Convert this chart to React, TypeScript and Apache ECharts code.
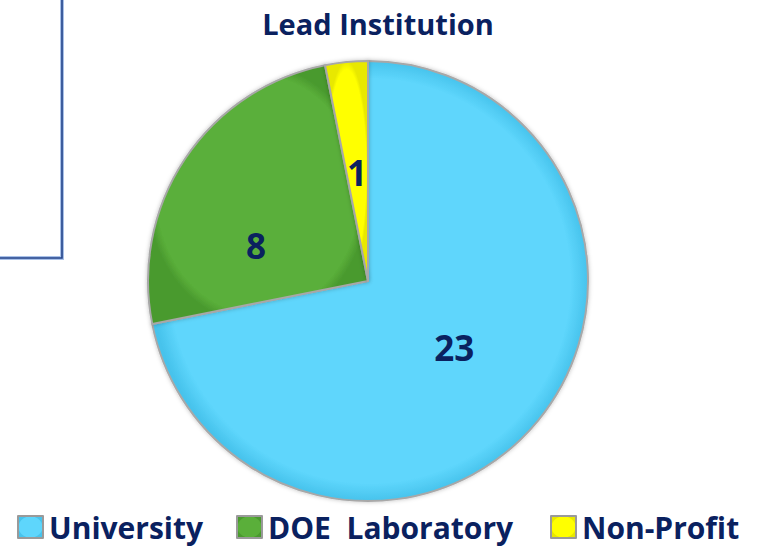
import React, { useEffect, useRef } from "react";
import * as echarts from "echarts";

const categories = ["University", "DOE  Laboratory", "Non-Profit"];
const values = [23, 8, 1];
const colors = ["#5ED6FC", "#5AAF3A", "#FFFF00"];
const edgeColors = ["#47C3EC", "#4A9A2E", "#E8E800"];
const titleText = "Lead Institution";

export default function App() {
  const ref = useRef<HTMLDivElement>(null);
  useEffect(() => {
    document.body.style.margin = "0";
    const chart = echarts.init(ref.current!, null, { renderer: "svg" });
    const navy = "#0A215F";
    const font = "'Open Sans'";
    const legendLefts = [17, 236, 550];
    const labelShift = [
      { dx: -1, dy: -5 },
      { dx: -18, dy: 27 },
      { dx: 0, dy: 4 },
    ];
    chart.setOption({
      animation: false,
      backgroundColor: "#ffffff",
      title: {
        text: titleText,
        left: 373,
        top: 4,
        textAlign: "center",
        textStyle: { color: navy, fontFamily: font, fontWeight: "bold", fontSize: 29 },
      },
      legend: categories.map((c, i) => ({
        data: [c],
        left: legendLefts[i],
        top: 512,
        icon: "rect",
        itemWidth: 25,
        itemHeight: 22,
        itemGap: 8,
        padding: 0,
        selectedMode: false,
        itemStyle: { borderColor: "#9A9A9A", borderWidth: 2 },
        textStyle: { color: navy, fontFamily: font, fontWeight: "bold", fontSize: 30, padding: [0, 0, 0, 1] },
      })),
      graphic: [
        {
          type: "polyline",
          shape: { points: [[62, 0], [62, 258], [0, 258]] },
          style: { stroke: "#A9C1E8", lineWidth: 4, fill: null },
        },
        {
          type: "polyline",
          shape: { points: [[62, 0], [62, 258], [0, 258]] },
          style: { stroke: "#24448A", lineWidth: 1.6, fill: null },
        },
      ],
      series: [
        {
          type: "pie",
          center: [368, 281],
          radius: 220,
          startAngle: 90,
          clockwise: true,
          avoidLabelOverlap: false,
          data: categories.map((c, i) => ({
            name: c,
            value: values[i],
            itemStyle: {
              color: {
                type: "radial",
                x: 0.5,
                y: 0.5,
                r: 0.5,
                colorStops: [
                  { offset: 0, color: colors[i] },
                  { offset: 0.92, color: colors[i] },
                  { offset: 1, color: edgeColors[i] },
                ],
              },
            },
          })),
          itemStyle: {
            borderColor: "#A8A8A8",
            borderWidth: 2,
            shadowBlur: 4,
            shadowColor: "rgba(0,0,0,0.25)",
          },
          label: {
            show: true,
            position: "inside",
            formatter: "{c}",
            color: navy,
            fontFamily: font,
            fontWeight: "bold",
            fontSize: 35,
          },
          labelLine: { show: false },
          labelLayout: (p: any) => labelShift[p.dataIndex],
          emphasis: { disabled: true },
        },
      ],
    });
    return () => chart.dispose();
  }, []);
  return <div ref={ref} style={{ width: 759, height: 548 }} />;
}
